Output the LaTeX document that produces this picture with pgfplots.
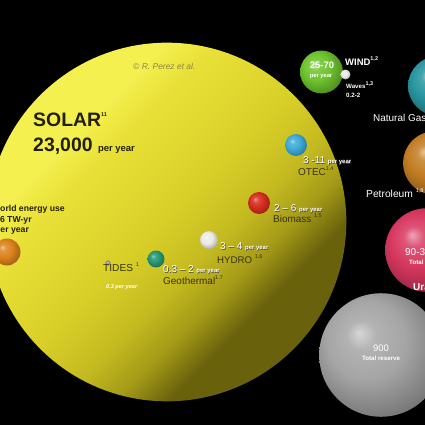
\documentclass[border=0pt]{standalone}
\usepackage{pgfplots}
\pgfplotsset{compat=1.18}
\usepackage{fontspec}
\setmainfont{Liberation Sans}

\definecolor{solA}{RGB}{244,240,80}
\definecolor{solB}{RGB}{233,225,56}
\definecolor{solC}{RGB}{216,206,40}
\definecolor{solD}{RGB}{196,186,32}
\definecolor{solE}{RGB}{165,155,24}
\definecolor{solF}{RGB}{105,97,12}
\definecolor{darktxt}{RGB}{35,32,10}
\definecolor{nametxt}{RGB}{55,50,18}
\definecolor{copytxt}{RGB}{140,134,70}
\definecolor{cWorld}{RGB}{222,130,30}
\definecolor{cTide}{RGB}{150,150,140}
\definecolor{cGeo}{RGB}{40,150,115}
\definecolor{cHydro}{RGB}{235,235,230}
\definecolor{cBio}{RGB}{215,45,30}
\definecolor{cOtec}{RGB}{60,170,215}
\definecolor{cWind}{RGB}{110,195,45}
\definecolor{cWave}{RGB}{235,235,230}
\definecolor{cGas}{RGB}{40,150,160}
\definecolor{cPet}{RGB}{195,125,35}
\definecolor{cUra}{RGB}{215,55,95}
\definecolor{cRes}{RGB}{165,165,165}
\colorlet{sbcol}{gray}

\pgfdeclareradialshading[sbcol]{sball}{\pgfqpoint{-9bp}{9bp}}{%
  color(0bp)=(sbcol!45!white);
  color(6bp)=(sbcol!85!white);
  color(16bp)=(sbcol);
  color(30bp)=(sbcol!72!black);
  color(50bp)=(sbcol!40!black)}
\pgfdeclareplotmark{sball}{\pgfpathcircle{\pgfpointorigin}{\pgfplotmarksize}\pgfshadepath{sball}{0}\pgfusepath{}}
\pgfdeclarehorizontalshading{solarlin}{100bp}{%
  color(0bp)=(solA);
  color(32bp)=(solA);
  color(37bp)=(solB);
  color(50bp)=(solC);
  color(57bp)=(solD);
  color(62.5bp)=(solE);
  color(68bp)=(solF);
  color(100bp)=(solF)}
\pgfdeclareplotmark{solarmark}{\pgfpathcircle{\pgfpointorigin}{\pgfplotmarksize}\pgfshadepath{solarlin}{-45}\pgfusepath{}}
\tikzset{sball color/.code={\colorlet{sbcol}{#1}},
  wlab/.style={anchor=base west,text=white,inner sep=0pt},
  shad/.style={anchor=base west,text=black!70,inner sep=0pt},
  nlab/.style={anchor=base west,text=nametxt,inner sep=0pt}}

\newcommand{\sups}[1]{\raisebox{0.55em}{\fontsize{5.5}{6}\selectfont #1}}
\newcommand{\fs}[1]{\fontsize{#1}{#1}\selectfont}

\begin{document}
\begin{tikzpicture}
\useasboundingbox (0,0) rectangle (425bp,425bp);
\begin{scope}
\clip (0,0) rectangle (425bp,425bp);
\fill[black] (0,0) rectangle (425bp,425bp);
\begin{axis}[at={(0,0)},anchor=south west,scale only axis,
  width=425bp,height=425bp,xmin=0,xmax=425,ymin=0,ymax=425,
  y dir=reverse,hide axis,clip=false]
% bubbles: x, y (pixels), radius via mark size
\addplot[only marks,mark=solarmark,mark size=180pt] coordinates {(167,222)};
\addplot[only marks,mark=sball,mark size=13.5pt,mark options={sball color=cWorld}] coordinates {(7,252)};
\addplot[only marks,mark=sball,mark size=2.6pt,mark options={sball color=cTide}] coordinates {(108,263)};
\addplot[only marks,mark=sball,mark size=8.5pt,mark options={sball color=cGeo}] coordinates {(156,259)};
\addplot[only marks,mark=sball,mark size=9pt,mark options={sball color=cHydro}] coordinates {(209,240)};
\addplot[only marks,mark=sball,mark size=11pt,mark options={sball color=cBio}] coordinates {(259,203)};
\addplot[only marks,mark=sball,mark size=11pt,mark options={sball color=cOtec}] coordinates {(296,145)};
\addplot[only marks,mark=sball,mark size=21.5pt,mark options={sball color=cWind}] coordinates {(321.5,72)};
\addplot[only marks,mark=sball,mark size=5pt,mark options={sball color=cWave}] coordinates {(345.5,74.5)};
\addplot[only marks,mark=sball,mark size=30pt,mark options={sball color=cGas}] coordinates {(438,86)};
\addplot[only marks,mark=sball,mark size=32pt,mark options={sball color=cPet}] coordinates {(435,163)};
\addplot[only marks,mark=sball,mark size=42pt,mark options={sball color=cUra}] coordinates {(427,250)};
\addplot[only marks,mark=sball,mark size=62pt,mark options={sball color=cRes}] coordinates {(381,355)};
\end{axis}
% labels drawn above the bubbles; (x,y) in image pixels from top-left
\begin{scope}[x=1bp,y=-1bp,yshift=425bp]
\node[anchor=base west,inner sep=0pt,text=copytxt,font=\fs{8.5}\itshape] at (133,70) {© R. Perez et al.};
\node[anchor=base west,inner sep=0pt,text=darktxt,font=\fs{19.5}\bfseries] at (33,127) {SOLAR\sups{11}};
\node[anchor=base west,inner sep=0pt,text=darktxt,font=\fs{19.5}\bfseries] at (33,152) {23,000 {\fs{9.5}per year}};
\node[anchor=base west,inner sep=0pt,text=darktxt,font=\fs{8.7}\bfseries] at (-8,212) {World energy use};
\node[anchor=base west,inner sep=0pt,text=darktxt,font=\fs{8.7}\bfseries] at (-5,222.5) {16 TW-yr};
\node[anchor=base west,inner sep=0pt,text=darktxt,font=\fs{8.7}\bfseries] at (-5,233) {per year};
% tides
\node[nlab,font=\fs{10.2}] at (103,272) {TIDES \sups{1}};
\node[wlab,font=\fs{5.6}\bfseries\itshape] at (106,289) {0.3 per year};
% geothermal
\node[shad,font=\fs{10}] at (163.6,273.6) {0.3 -- 2 {\fs{6}\bfseries per year}};
\node[wlab,font=\fs{10}] at (163,273) {0.3 -- 2 {\fs{6}\bfseries per year}};
\node[nlab,font=\fs{10}] at (163,285) {Geothermal\sups{1.7}};
% hydro
\node[shad,font=\fs{10}] at (220.6,250.6) {3 -- 4 {\fs{6}\bfseries per year}};
\node[wlab,font=\fs{10}] at (220,250) {3 -- 4 {\fs{6}\bfseries per year}};
\node[nlab,font=\fs{9.7}] at (217,264) {HYDRO \sups{1.6}};
% biomass
\node[shad,font=\fs{10}] at (274.6,212.6) {2 -- 6 {\fs{6}\bfseries per year}};
\node[wlab,font=\fs{10}] at (274,212) {2 -- 6 {\fs{6}\bfseries per year}};
\node[nlab,font=\fs{10}] at (273,223) {Biomass \sups{1.5}};
% otec
\node[shad,font=\fs{10}] at (303.6,164.6) {3 -11 {\fs{6}\bfseries per year}};
\node[wlab,font=\fs{10}] at (303,164) {3 -11 {\fs{6}\bfseries per year}};
\node[nlab,font=\fs{10}] at (298,176) {OTEC\sups{1.4}};
% wind & waves
\node[anchor=base,inner sep=0pt,text=white,font=\fs{9.5}\bfseries] at (322,69) {25-70};
\node[anchor=base,inner sep=0pt,text=white,font=\fs{5.8}\bfseries] at (321,78) {per year};
\node[wlab,font=\fs{9.5}\bfseries] at (345,66) {WIND\sups{1,2}};
\node[wlab,font=\fs{6.2}\bfseries] at (346,89) {Waves\sups{1,3}};
\node[wlab,font=\fs{6.2}\bfseries] at (346,98) {0.2-2};
% right side
\node[wlab,font=\fs{10}] at (373,122) {Natural Gas};
\node[wlab,font=\fs{10.3}] at (366,198) {Petroleum \sups{1,8}};
\node[wlab,font=\fs{10}] at (405,256) {90-300};
\node[wlab,font=\fs{6.2}\bfseries] at (409,264.5) {Total reserve};
\node[wlab,font=\fs{10}\bfseries] at (413,291) {Uranium};
\node[anchor=base,inner sep=0pt,text=white,font=\fs{9.5}] at (381,352) {900};
\node[anchor=base,inner sep=0pt,text=white,font=\fs{6.2}\bfseries] at (381,360.5) {Total reserve};
\end{scope}
\end{scope}
\end{tikzpicture}
\end{document}
